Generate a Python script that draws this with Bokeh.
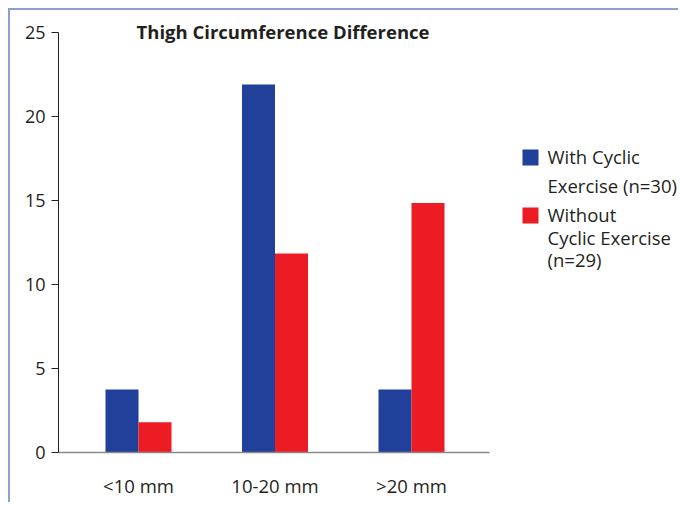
from bokeh.plotting import figure
from bokeh.models import Range1d, FixedTicker
from bokeh.core.properties import value
from bokeh.embed import file_html
from bokeh.resources import INLINE

# ---- data ----
categories = ["<10 mm", "10-20 mm", ">20 mm"]
with_cyclic = [3.75, 21.9, 3.75]
without_cyclic = [1.8, 11.85, 14.85]
y_ticks = [0, 5, 10, 15, 20, 25]
title_text = "Thigh Circumference Difference"
legend_with = ["With Cyclic", "Exercise (n=30)"]
legend_without = ["Without", "Cyclic Exercise", "(n=29)"]

BLUE = "#21409A"
RED = "#ED1C24"
DARK = "#231F20"
GREY = "#8A8A8A"
FONT = "Open Sans"

# ---- layout helpers (page pixel -> data) ----
PX_X = 136.5   # px per category step
PX_Y = 16.8    # px per y unit
X1_PX = 138    # page x of first category centre
Y0_PX = 452    # page y of zero


def xd(px):
    return 1 + (px - X1_PX) / PX_X


def yd(py):
    return (Y0_PX - py) / PX_Y


W, H = 670, 494
p = figure(width=W, height=H, output_backend="svg", toolbar_location=None,
           x_range=Range1d(xd(58), xd(680)), y_range=Range1d(0, yd(10)),
           min_border_left=48, min_border_right=0, min_border_top=0,
           min_border_bottom=H - (Y0_PX - 10))
p.styles = {"border-top": "2px solid #8C9FD0", "border-left": "2px solid #8C9FD0",
            "margin-top": "8px", "margin-left": "8px"}
p.outline_line_color = None
p.background_fill_color = "white"
p.border_fill_color = "white"
p.grid.visible = False

xs = list(range(1, len(categories) + 1))

xa = p.xaxis[0]
xa.ticker = FixedTicker(ticks=xs)
xa.major_label_overrides = {x: c for x, c in zip(xs, categories)}
xa.bounds = (xd(58), xd(489))
xa.axis_line_color = GREY
xa.axis_line_width = 1.6
xa.major_tick_line_color = None
xa.minor_tick_line_color = None
xa.major_tick_out = 0
xa.major_tick_in = 0
xa.major_label_standoff = 20
xa.major_label_text_font = FONT
xa.major_label_text_font_size = "18.5px"
xa.major_label_text_color = DARK

ya = p.yaxis[0]
ya.ticker = FixedTicker(ticks=y_ticks)
ya.bounds = (0, 25)
ya.axis_line_color = DARK
ya.axis_line_width = 1
ya.major_tick_line_color = DARK
ya.major_tick_out = 7
ya.major_tick_in = 0
ya.minor_tick_line_color = None
ya.major_label_standoff = 6
ya.major_label_text_font = FONT
ya.major_label_text_font_size = "18px"
ya.major_label_text_color = DARK

bw = 33 / PX_X
p.vbar(x=[x - bw / 2 for x in xs], top=with_cyclic, width=bw, bottom=0,
       fill_color=BLUE, line_color=None)
p.vbar(x=[x + bw / 2 for x in xs], top=without_cyclic, width=bw, bottom=0,
       fill_color=RED, line_color=None)

# title
p.text(x=[xd(282.5)], y=[yd(31)], text=[title_text], text_align="center",
       text_baseline="alphabetic", text_font=value(FONT), text_font_size="18.5px",
       text_font_style="bold", text_color=DARK)

# legend
p.scatter(x=[xd(530), xd(530)], y=[yd(157), yd(215)], marker="square", size=16,
          fill_color=[BLUE, RED], line_color=None)
p.text(x=[xd(547)] * 2, y=[yd(156), yd(184.5)], text=legend_with, text_align="left",
       text_baseline="alphabetic", text_font=value(FONT), text_font_size="18.5px",
       text_color=DARK)
p.text(x=[xd(547)] * 3, y=[yd(214), yd(236.5)], text=legend_without[:2],
       text_align="left", text_baseline="alphabetic", text_font=value(FONT),
       text_font_size="18.5px", text_color=DARK)
p.text(x=[xd(547)], y=[yd(258.5)], text=legend_without[2:],
       text_align="left", text_baseline="alphabetic", text_font=value(FONT),
       text_font_size="18.5px", text_color=DARK)

open("out.html", "w").write(file_html(p, INLINE))
